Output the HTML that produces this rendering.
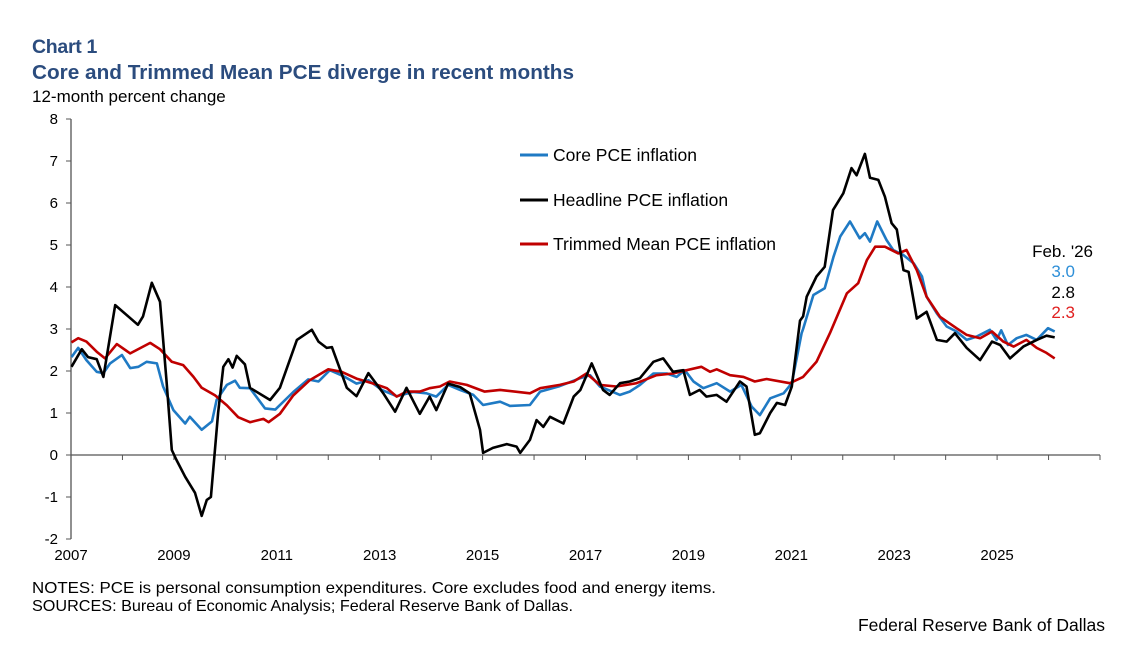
<!DOCTYPE html>
<html><head><meta charset="utf-8">
<style>
body{margin:0;background:#fff;}
svg text{font-family:"Liberation Sans",Arial,sans-serif;}
</style></head>
<body>
<svg id="chart" width="1135" height="650" viewBox="0 0 1135 650" xmlns="http://www.w3.org/2000/svg">
<rect width="1135" height="650" fill="#fff"/>
<text x="32" y="53" font-size="19.5" font-weight="bold" fill="#2b4c7e" letter-spacing="-0.3">Chart 1</text>
<text x="32" y="79" font-size="20.5" font-weight="bold" fill="#2b4c7e" textLength="542" lengthAdjust="spacingAndGlyphs">Core and Trimmed Mean PCE diverge in recent months</text>
<text x="32" y="102" font-size="17" fill="#000">12-month percent change</text>
<g id="axes"></g>
<g id="series"></g>
<g>
<line x1="520" y1="155" x2="548" y2="155" stroke="#1f7ac4" stroke-width="3"/>
<text x="553" y="161" font-size="17.5">Core PCE inflation</text>
<line x1="520" y1="200" x2="548" y2="200" stroke="#000" stroke-width="3"/>
<text x="553" y="206" font-size="17.5">Headline PCE inflation</text>
<line x1="520" y1="244" x2="548" y2="244" stroke="#c00000" stroke-width="3"/>
<text x="553" y="250" font-size="17.5">Trimmed Mean PCE inflation</text>
</g>
<g font-size="17" text-anchor="end">
<text x="1093" y="257">Feb. '26</text>
<text x="1075" y="277" fill="#2e8fd8">3.0</text>
<text x="1075" y="298" fill="#000">2.8</text>
<text x="1075" y="318" fill="#e02020">2.3</text>
</g>
<text x="32" y="593" font-size="16" textLength="684" lengthAdjust="spacingAndGlyphs">NOTES: PCE is personal consumption expenditures. Core excludes food and energy items.</text>
<text x="32" y="611" font-size="16" textLength="541" lengthAdjust="spacingAndGlyphs">SOURCES: Bureau of Economic Analysis; Federal Reserve Bank of Dallas.</text>
<text x="1105" y="631" font-size="17.5" text-anchor="end">Federal Reserve Bank of Dallas</text>
</svg>
<script>
const xTickYears=[2007,2009,2011,2013,2015,2017,2019,2021,2023,2025];
const yTicks=[-2,-1,0,1,2,3,4,5,6,7,8];
const headlineT=[2007.01,2007.21,2007.33,2007.5,2007.63,2007.86,2008.3,2008.4,2008.57,2008.73,2008.86,2008.96,2009.05,2009.22,2009.41,2009.54,2009.64,2009.72,2009.86,2009.96,2010.06,2010.14,2010.22,2010.38,2010.48,2010.87,2011.06,2011.39,2011.68,2011.81,2011.97,2012.07,2012.36,2012.55,2012.78,2013.07,2013.3,2013.52,2013.78,2013.97,2014.1,2014.33,2014.56,2014.75,2014.95,2015.01,2015.2,2015.47,2015.66,2015.73,2015.92,2016.05,2016.18,2016.31,2016.57,2016.77,2016.9,2017.12,2017.34,2017.47,2017.67,2017.86,2018.06,2018.32,2018.51,2018.7,2018.9,2019.03,2019.22,2019.35,2019.55,2019.74,2020.0,2020.13,2020.29,2020.39,2020.59,2020.72,2020.88,2021.01,2021.17,2021.23,2021.3,2021.49,2021.65,2021.81,2022.01,2022.17,2022.27,2022.43,2022.53,2022.69,2022.82,2022.95,2023.05,2023.18,2023.28,2023.44,2023.63,2023.83,2024.02,2024.18,2024.41,2024.67,2024.9,2025.06,2025.25,2025.51,2025.77,2025.96,2026.12];
const headlineV=[2.1,2.52,2.33,2.28,1.86,3.57,3.1,3.3,4.1,3.65,1.71,0.12,-0.12,-0.52,-0.9,-1.45,-1.07,-1.0,1.0,2.1,2.28,2.08,2.36,2.16,1.6,1.31,1.6,2.74,2.98,2.7,2.55,2.57,1.6,1.4,1.95,1.47,1.03,1.6,0.98,1.39,1.07,1.7,1.62,1.47,0.6,0.05,0.17,0.26,0.2,0.05,0.36,0.83,0.67,0.91,0.75,1.39,1.55,2.18,1.55,1.43,1.71,1.75,1.83,2.22,2.3,1.98,2.02,1.43,1.55,1.39,1.43,1.27,1.75,1.63,0.48,0.52,1.0,1.24,1.19,1.63,3.2,3.3,3.77,4.25,4.48,5.83,6.23,6.83,6.66,7.17,6.6,6.55,6.15,5.52,5.37,4.4,4.36,3.25,3.41,2.74,2.7,2.9,2.55,2.26,2.7,2.62,2.3,2.58,2.74,2.84,2.8];
const coreT=[2007.01,2007.14,2007.3,2007.5,2007.63,2007.76,2007.99,2008.15,2008.31,2008.47,2008.67,2008.79,2008.99,2009.22,2009.31,2009.54,2009.74,2009.83,2010.03,2010.19,2010.28,2010.48,2010.77,2010.97,2011.32,2011.61,2011.81,2012.03,2012.29,2012.55,2012.78,2013.04,2013.33,2013.65,2013.91,2014.1,2014.33,2014.56,2014.82,2015.01,2015.34,2015.53,2015.92,2016.12,2016.5,2016.9,2017.09,2017.28,2017.67,2017.86,2018.06,2018.32,2018.58,2018.77,2018.93,2019.1,2019.29,2019.55,2019.81,2020.03,2020.23,2020.39,2020.59,2020.85,2021.01,2021.2,2021.23,2021.43,2021.65,2021.82,2021.95,2022.14,2022.33,2022.43,2022.53,2022.67,2022.85,2022.98,2023.18,2023.38,2023.54,2023.63,2023.83,2024.02,2024.21,2024.41,2024.6,2024.86,2024.99,2025.08,2025.21,2025.38,2025.57,2025.77,2025.99,2026.12];
const coreV=[2.33,2.55,2.26,1.98,1.95,2.18,2.38,2.07,2.1,2.22,2.18,1.63,1.07,0.75,0.91,0.6,0.8,1.31,1.67,1.77,1.6,1.59,1.11,1.08,1.5,1.8,1.75,2.02,1.88,1.7,1.78,1.55,1.4,1.5,1.47,1.39,1.67,1.55,1.43,1.19,1.27,1.17,1.19,1.51,1.64,1.83,1.9,1.63,1.43,1.51,1.67,1.94,1.94,1.86,2.02,1.75,1.59,1.71,1.51,1.67,1.15,0.95,1.35,1.47,1.71,2.9,3.0,3.81,3.97,4.72,5.2,5.56,5.16,5.28,5.08,5.56,5.12,4.88,4.76,4.56,4.25,3.77,3.37,3.06,2.94,2.74,2.82,2.98,2.74,2.97,2.62,2.78,2.86,2.74,3.02,2.94];
const trimT=[2007.01,2007.14,2007.3,2007.5,2007.66,2007.89,2008.15,2008.54,2008.73,2008.96,2009.18,2009.38,2009.54,2009.8,2010.03,2010.25,2010.48,2010.74,2010.84,2011.06,2011.32,2011.64,2012.0,2012.26,2012.55,2012.88,2013.14,2013.33,2013.52,2013.78,2013.97,2014.17,2014.36,2014.69,2015.04,2015.34,2015.92,2016.12,2016.5,2016.77,2017.02,2017.28,2017.6,2017.99,2018.38,2018.7,2018.96,2019.25,2019.42,2019.55,2019.81,2020.07,2020.29,2020.52,2020.97,2021.23,2021.49,2021.75,2022.08,2022.3,2022.47,2022.63,2022.82,2023.08,2023.24,2023.44,2023.63,2023.89,2024.21,2024.41,2024.67,2024.9,2025.12,2025.32,2025.57,2025.77,2025.96,2026.12];
const trimV=[2.68,2.78,2.7,2.46,2.3,2.64,2.42,2.67,2.52,2.22,2.14,1.86,1.6,1.42,1.18,0.9,0.78,0.86,0.78,0.98,1.42,1.78,2.04,1.98,1.82,1.7,1.59,1.39,1.51,1.51,1.59,1.63,1.75,1.67,1.51,1.55,1.47,1.59,1.67,1.75,1.94,1.67,1.63,1.71,1.9,1.94,2.02,2.1,1.98,2.04,1.9,1.86,1.75,1.81,1.71,1.86,2.22,2.9,3.85,4.09,4.64,4.96,4.96,4.8,4.88,4.4,3.77,3.29,3.02,2.86,2.78,2.94,2.7,2.58,2.74,2.55,2.43,2.3];

const NS='http://www.w3.org/2000/svg';
const X0=71,X1=1100,T0=2007,T1=2027,Y0=455,PPU=42;
function xs(t){return X0+(t-T0)*(X1-X0)/(T1-T0);}
function ys(v){return Y0-v*PPU;}
function mk(tag,attrs,parent){const e=document.createElementNS(NS,tag);for(const k in attrs)e.setAttribute(k,attrs[k]);parent.appendChild(e);return e;}
const axes=document.getElementById('axes');
let yl=mk('line',{x1:X0,y1:ys(8),x2:X0,y2:ys(-2),stroke:'#555','stroke-width':1.3},axes);


let xl=mk('line',{x1:X0,y1:Y0,x2:X1,y2:Y0,stroke:'#555','stroke-width':1.3},axes);


yTicks.forEach(v=>{
  mk('line',{x1:X0-5,y1:ys(v),x2:X0,y2:ys(v),stroke:'#555','stroke-width':1},axes);
  const t=mk('text',{x:X0-13,y:ys(v)+5,'font-size':15,'text-anchor':'end'},axes);
  t.textContent=v;
  
  
});
for(let yr=T0+1;yr<=T1;yr++){mk('line',{x1:xs(yr),y1:Y0,x2:xs(yr),y2:Y0+5,stroke:'#555','stroke-width':1},axes);}
xTickYears.forEach(yr=>{
  const t=mk('text',{x:xs(yr),y:560,'font-size':15,'text-anchor':'middle'},axes);
  t.textContent=yr;
  
  
});
const sg=document.getElementById('series');
function line(T,V,color,name){
  const d=T.map((t,i)=>(i?'L':'M')+xs(t).toFixed(1)+','+ys(V[i]).toFixed(1)).join('');
  const p=mk('path',{d:d,fill:'none',stroke:color,'stroke-width':2.6,'stroke-linejoin':'round'},sg);
  
  
}
line(coreT,coreV,'#1f7ac4','core-pce-line');
line(trimT,trimV,'#c00000','trimmed-mean-pce-line');
line(headlineT,headlineV,'#000000','headline-pce-line');
</script>
</body></html>
